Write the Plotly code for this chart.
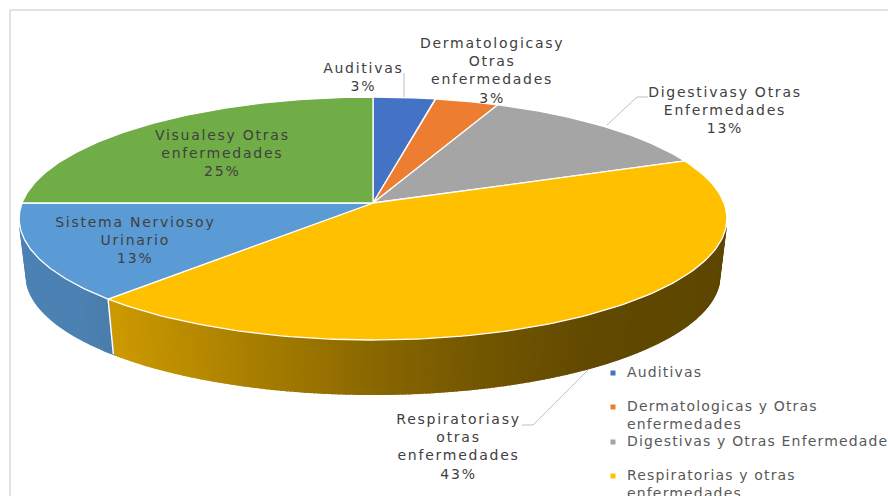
import numpy as np
import plotly.graph_objects as go

# ---- data ----
categories = ["Auditivas", "Dermatologicas y Otras enfermedades", "Digestivas y Otras Enfermedades",
              "Respiratorias y otras enfermedades", "Sistema Nervioso y Urinario",
              "Visuales y Otras enfermedades"]
values = [3.2, 3.3, 12.5, 43.0, 13.0, 25.0]
percent_labels = ["3%", "3%", "13%", "43%", "13%", "25%"]
colors = ["#4472C4", "#ED7D31", "#A5A5A5", "#FFC000", "#5B9BD5", "#70AD47"]
label_names = ["Auditivas", "Dermatologicasy<br>Otras<br>enfermedades",
               "Digestivasy Otras<br>Enfermedades", "Respiratoriasy<br>otras<br>enfermedades",
               "Sistema Nerviosoy<br>Urinario", "Visualesy Otras<br>enfermedades"]
legend_names = ["Auditivas", "Dermatologicas y Otras<br>enfermedades", "Digestivas y Otras Enfermedades",
                "Respiratorias y otras<br>enfermedades"]

# ---- layout / style ----
W, H = 888, 496
CX, CY, A, B, K = 373.0, 203.0, 351.0, 119.5, 0.1276
DEPTH, SX, SY = 57.0, 0.98, 0.98
label_pos = [(363, 77), (492, 70), (725, 110), (458, 446), (135, 240), (222, 153)]
legend_pos = [(625, 372, 373), (625, 415, 407), (625, 441, 442), (625, 484, 476)]
TXT = "#404040"
LEG = "#595959"
FONT = "DejaVu Sans"


def top(theta):
    d = 1 + K * np.cos(theta)
    return CX + A * np.sin(theta) / d, CY - B * np.cos(theta) / d


def bottom(theta):
    x, y = top(theta)
    return CX + (x - CX) * SX, CY + (y - CY) * SY + DEPTH


def shade(base, f):
    return "rgb(%d,%d,%d)" % tuple(int(round(c * f)) for c in base)


fig = go.Figure()


def poly(xs, ys, fill, line=None, width=0.6):
    fig.add_trace(go.Scatter(x=xs, y=ys, mode="lines", fill="toself", fillcolor=fill,
                             line=dict(color=line or fill, width=width),
                             hoverinfo="skip", showlegend=False))


def seg(xs, ys, color="#ffffff", width=1.5):
    fig.add_trace(go.Scatter(x=xs, y=ys, mode="lines", line=dict(color=color, width=width),
                             hoverinfo="skip", showlegend=False))


edges = np.cumsum([0.0] + values) / sum(values) * 2 * np.pi
vis0 = np.arccos(-K) + np.radians(4)
vis1 = 2 * np.pi - np.arccos(-K) - np.radians(4)

# side wall, drawn as thin shaded strips
side_styles = {
    3: ((255, 192, 0), [112, 250, 373, 480, 600, 727], [0.80, 0.66, 0.54, 0.45, 0.38, 0.37]),
    4: ((91, 155, 213), [20, 70, 115], [0.84, 0.84, 0.80]),
}
for i, (base, px, pf) in side_styles.items():
    a0, a1 = max(edges[i], vis0), min(edges[i + 1], vis1)
    grid = np.linspace(a0, a1, 240 if i == 3 else 50)
    for t0, t1 in zip(grid[:-1], grid[1:]):
        tt = np.array([t0, t1])
        tx, ty = top(tt)
        bx, by = bottom(tt)
        f = float(np.interp((tx[0] + tx[-1]) / 2, px, pf))
        poly(list(tx) + list(bx[::-1]) + [tx[0]], list(ty) + list(by[::-1]) + [ty[0]], shade(base, f), width=1.6)

# divider on the side wall
tx, ty = top(edges[4])
bx, by = bottom(edges[4])
seg([tx, bx], [ty, by], width=1.5)

# top face
for i, c in enumerate(colors):
    tt = np.linspace(edges[i], edges[i + 1], 120)
    x, y = top(tt)
    poly([CX] + list(x) + [CX], [CY] + list(y) + [CY], c, line="#ffffff", width=1.3)

# leader lines
leaders = [([404, 404], [73, 97]), ([648, 637, 607], [97, 97, 125]), ([588, 533, 522], [370, 425, 425])]
for lx, ly in leaders:
    seg(lx, ly, color="#BFBFBF", width=1)

# legend markers
for (lx, ly, my), c in zip(legend_pos, colors):
    fig.add_trace(go.Scatter(x=[lx - 12], y=[my], mode="markers",
                             marker=dict(symbol="square", size=5, color=c),
                             hoverinfo="skip", showlegend=False))

annots = []
for (lx, ly), name, pct in zip(label_pos, label_names, percent_labels):
    annots.append(dict(x=lx, y=ly, xref="x", yref="y", text=f"{name}<br>{pct}", showarrow=False,
                       xanchor="center", yanchor="middle", align="center",
                       font=dict(family=FONT, size=14, color=TXT)))
for (lx, ly, my), name in zip(legend_pos, legend_names):
    annots.append(dict(x=lx, y=ly, xref="x", yref="y", text=name, showarrow=False,
                       xanchor="left", yanchor="middle", align="left",
                       font=dict(family=FONT, size=14, color=LEG)))

fig.update_layout(
    width=W, height=H, margin=dict(l=0, r=0, t=0, b=0), paper_bgcolor="white", plot_bgcolor="white",
    xaxis=dict(range=[0, W], visible=False, fixedrange=True),
    yaxis=dict(range=[H, 0], visible=False, fixedrange=True),
    showlegend=False, annotations=annots,
    shapes=[
        dict(type="line", xref="x", yref="y", x0=10, x1=W, y0=10, y1=10, line=dict(color="#D9D9D9", width=1.5), layer="below"),
        dict(type="line", xref="x", yref="y", x0=10, x1=10, y0=10, y1=H, line=dict(color="#D9D9D9", width=1.5), layer="below"),
    ],
)
post = """
document.body.style.margin='0';
document.body.style.overflow='hidden';
document.querySelectorAll('.annotation-text').forEach(function(t,i){
  t.style.letterSpacing = i<6 ? '1.75px' : '1.15px';
});
"""
fig.write_html("out.html", config={"displayModeBar": False}, post_script=post)
